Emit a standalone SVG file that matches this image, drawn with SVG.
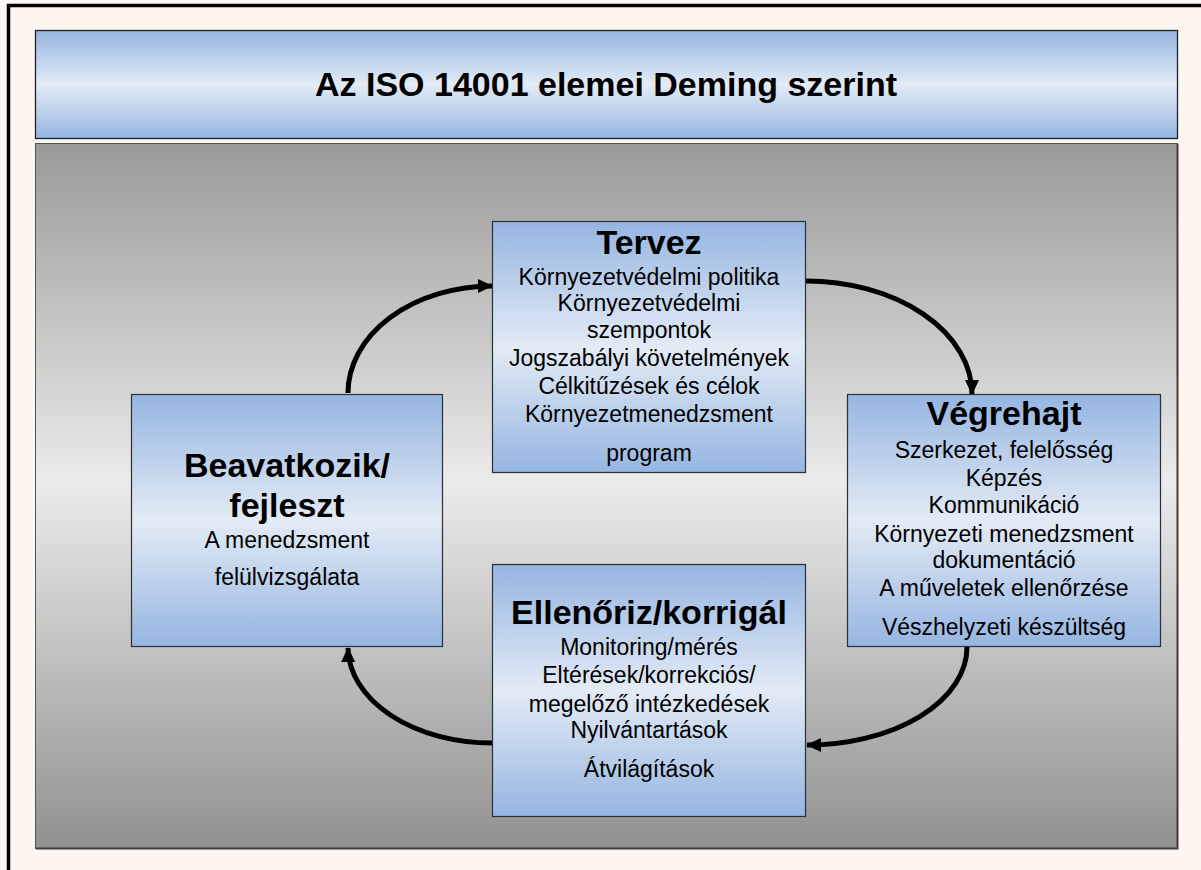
<svg xmlns="http://www.w3.org/2000/svg" width="1201" height="870" viewBox="0 0 1201 870">
  <defs>
    <linearGradient id="blueFill" x1="0" y1="0" x2="0" y2="1">
      <stop offset="0" stop-color="#95b5e1"/>
      <stop offset="0.5" stop-color="#e3ebf5"/>
      <stop offset="1" stop-color="#95b5e1"/>
    </linearGradient>
    <linearGradient id="grayFill" x1="0" y1="0" x2="0" y2="1">
      <stop offset="0" stop-color="#9a9a98"/>
      <stop offset="0.48" stop-color="#ebebeb"/>
      <stop offset="1" stop-color="#91918f"/>
    </linearGradient>
    <marker id="head" markerUnits="userSpaceOnUse" markerWidth="18" markerHeight="16" refX="14" refY="7" orient="auto">
      <path d="M0,0 L15,7 L0,14 Z" fill="#000"/>
    </marker>
    <style>
      .box { fill: url(#blueFill); stroke: #2b2f36; stroke-width: 1.2; }
      .head { font-family: "Liberation Sans", Arial, sans-serif; font-weight: bold; font-size: 34px; fill: #000; text-anchor: middle; }
      .body { font-family: "Liberation Sans", Arial, sans-serif; font-size: 23px; fill: #000; text-anchor: middle; }
      .arc { fill: none; stroke: #000; stroke-width: 5; marker-end: url(#head); }
    </style>
  </defs>

  <!-- page background and frame -->
  <rect x="0" y="0" width="1201" height="870" fill="#fdf6f0"/>
  <rect x="8.5" y="5.5" width="1300" height="1000" fill="none" stroke="#000" stroke-width="3.5"/>

  <!-- heading banner -->
  <g id="title">
    <rect x="35.5" y="30.5" width="1142" height="108" fill="url(#blueFill)" stroke="#1e2128" stroke-width="1.3"/>
    <text x="606" y="96" class="head">Az ISO 14001 elemei Deming szerint</text>
  </g>

  <!-- grey panel -->
  <g id="panel">
    <rect x="35.5" y="143.5" width="1142" height="705" fill="url(#grayFill)" stroke="#555" stroke-width="1"/>
    <path d="M36,848.5 H1177.5 V144" fill="none" stroke="#3c3c3c" stroke-width="2"/>
  </g>

  <!-- cycle connectors -->
  <g id="connectors">
    <path class="arc" d="M348,393 A145,107 0 0 1 492,286"/>
    <path class="arc" d="M806,281 A166,113 0 0 1 972,394"/>
    <path class="arc" d="M967,647 A160,98 0 0 1 807,745"/>
    <path class="arc" d="M492,743 A144,96 0 0 1 348,648"/>
  </g>

  <g id="tervez">
    <rect class="box" x="492.5" y="221.5" width="313" height="251"/>
    <text x="649" y="254" class="head">Tervez</text>
    <text x="649" y="285" class="body">Környezetvédelmi politika</text>
    <text x="649" y="311" class="body">Környezetvédelmi</text>
    <text x="649" y="338" class="body">szempontok</text>
    <text x="649" y="366" class="body">Jogszabályi követelmények</text>
    <text x="649" y="394" class="body">Célkitűzések és célok</text>
    <text x="649" y="422" class="body">Környezetmenedzsment</text>
    <text x="649" y="461" class="body">program</text>
  </g>

  <g id="vegrehajt">
    <rect class="box" x="847.5" y="394.5" width="313" height="252"/>
    <text x="1004" y="425" class="head">Végrehajt</text>
    <text x="1004" y="458" class="body">Szerkezet, felelősség</text>
    <text x="1004" y="486" class="body">Képzés</text>
    <text x="1004" y="513" class="body">Kommunikáció</text>
    <text x="1004" y="542" class="body">Környezeti menedzsment</text>
    <text x="1004" y="568" class="body">dokumentáció</text>
    <text x="1004" y="596" class="body">A műveletek ellenőrzése</text>
    <text x="1004" y="635" class="body">Vészhelyzeti készültség</text>
  </g>

  <g id="beavatkozik">
    <rect class="box" x="131.5" y="394.5" width="311" height="252"/>
    <text x="287" y="477" class="head">Beavatkozik/</text>
    <text x="287" y="517" class="head">fejleszt</text>
    <text x="287" y="548" class="body">A menedzsment</text>
    <text x="287" y="585" class="body">felülvizsgálata</text>
  </g>

  <g id="ellenoriz">
    <rect class="box" x="492.5" y="564.5" width="313" height="252"/>
    <text x="649" y="624" class="head">Ellenőriz/korrigál</text>
    <text x="649" y="655" class="body">Monitoring/mérés</text>
    <text x="649" y="683" class="body">Eltérések/korrekciós/</text>
    <text x="649" y="712" class="body">megelőző intézkedések</text>
    <text x="649" y="738" class="body">Nyilvántartások</text>
    <text x="649" y="777" class="body">Átvilágítások</text>
  </g>
</svg>
